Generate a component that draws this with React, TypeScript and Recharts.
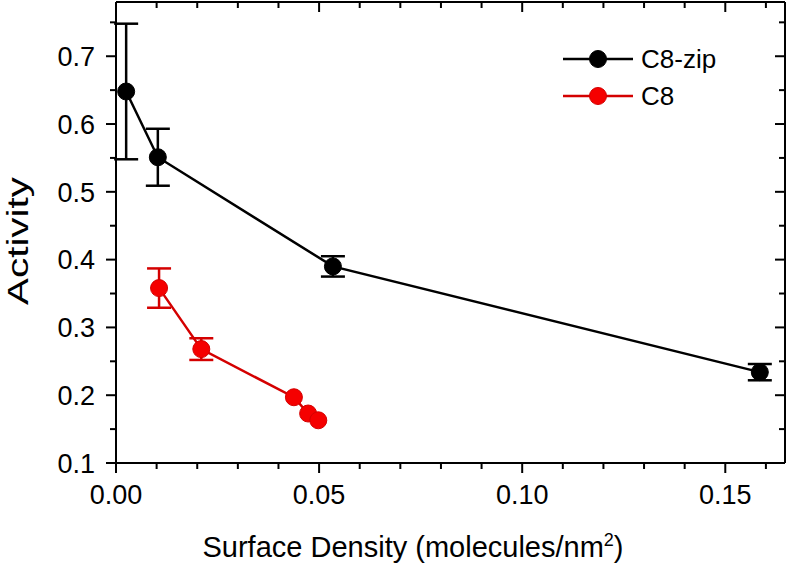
import React from "react";
import { LineChart, Line, XAxis, YAxis, ErrorBar, Legend } from "recharts";

// C8-zip series
const zipX = [0.0025, 0.0103, 0.0534, 0.1585];
const zipY = [0.648, 0.551, 0.39, 0.234];
const zipErr = [0.1, 0.042, 0.015, 0.012];

// C8 series (last three error bars are hidden by the markers)
const c8X = [0.0106, 0.021, 0.0438, 0.0473, 0.0498];
const c8Y = [0.358, 0.268, 0.197, 0.173, 0.163];
const c8Err = [0.029, 0.016, null, null, null];

const xTicks = [0, 0.01, 0.02, 0.03, 0.04, 0.05, 0.06, 0.07, 0.08, 0.09, 0.1, 0.11, 0.12, 0.13, 0.14, 0.15, 0.16];
const xMajor = [0, 0.05, 0.1, 0.15];
const yTicks = [0.1, 0.15, 0.2, 0.25, 0.3, 0.35, 0.4, 0.45, 0.5, 0.55, 0.6, 0.65, 0.7, 0.75];
const yMajor = [0.1, 0.2, 0.3, 0.4, 0.5, 0.6, 0.7];
const seriesOrder = ["C8-zip", "C8"];

const zipData = zipX.map((x, i) => ({ x, y: zipY[i], err: zipErr[i] }));
const c8Data = c8X.map((x, i) => ({ x, y: c8Y[i], err: c8Err[i] }));

const FONT = "'Liberation Sans', Arial, sans-serif";
const RED = "#f50000";
const RED_LINE = "#d40000";
const dotFill: Record<string, string> = { "C8-zip": "#000", C8: RED };

function BottomTick(props: any) {
  const { x, y, payload } = props;
  const major = xMajor.includes(payload.value);
  return (
    <g>
      <line x1={x} y1={y} x2={x} y2={y + (major ? 10 : 6)} stroke="#000" strokeWidth={2} />
      {major && (
        <text x={x} y={y + 22} dy="0.71em" textAnchor="middle" fontSize={27} fontFamily={FONT} fill="#000">
          {payload.value.toFixed(2)}
        </text>
      )}
    </g>
  );
}

function TopTick(props: any) {
  const { x, y, payload } = props;
  const major = xMajor.includes(payload.value);
  return <line x1={x} y1={y} x2={x} y2={y + (major ? 10 : 6)} stroke="#000" strokeWidth={2} />;
}

function LeftTick(props: any) {
  const { x, y, payload } = props;
  const major = yMajor.includes(payload.value);
  return (
    <g>
      <line x1={x} y1={y} x2={x - (major ? 10 : 6)} y2={y} stroke="#000" strokeWidth={2} />
      {major && (
        <text x={x - 21} y={y} dy="0.36em" textAnchor="end" fontSize={27} fontFamily={FONT} fill="#000">
          {payload.value.toFixed(1)}
        </text>
      )}
    </g>
  );
}

function RightTick(props: any) {
  const { x, y, payload } = props;
  const major = yMajor.includes(payload.value);
  return <line x1={x} y1={y} x2={x - (major ? 10 : 6)} y2={y} stroke="#000" strokeWidth={2} />;
}

function YTitle() {
  return (
    <text
      transform="translate(28,241) rotate(-90)"
      textAnchor="middle"
      fontSize={30}
      fontFamily={FONT}
      fill="#000"
      textLength={128}
      lengthAdjust="spacingAndGlyphs"
    >
      Activity
    </text>
  );
}

function XTitle() {
  return (
    <text x={413} y={557} textAnchor="middle" fontSize={29} fontFamily={FONT} fill="#000">
      Surface Density (molecules/nm
      <tspan dy={-11} fontSize={18}>2</tspan>
      <tspan dy={11}>)</tspan>
    </text>
  );
}

function LegendBox(props: any) {
  const payload = [...(props.payload || [])]
    .filter((p: any) => seriesOrder.includes(p.value))
    .sort((a: any, b: any) => seriesOrder.indexOf(a.value) - seriesOrder.indexOf(b.value));
  return (
    <svg width={220} height={80}>
      {payload.map((p: any, i: number) => {
        const cy = 24 + i * 37;
        return (
          <g key={p.value}>
            <line x1={8} y1={cy} x2={78} y2={cy} stroke={p.color} strokeWidth={2.5} />
            <circle cx={43} cy={cy} r={8.5} fill={dotFill[p.value]} stroke={p.color} strokeWidth={1} />
            <text x={86} y={cy} dy="0.36em" fontSize={26} fontFamily={FONT} fill="#000">
              {p.value}
            </text>
          </g>
        );
      })}
    </svg>
  );
}

const axisLine = { stroke: "#000", strokeWidth: 2 };

export default function App() {
  return (
    <div style={{ position: "absolute", left: 0, top: 0, background: "#fff" }}>
      <LineChart width={788} height={571} margin={{ top: 1, right: 2, bottom: 107, left: 115 }}>
        <XAxis
          xAxisId="b"
          dataKey="x"
          type="number"
          domain={[0, 0.1647]}
          allowDataOverflow
          ticks={xTicks}
          interval={0}
          height={1}
          tickSize={0}
          tickMargin={0}
          tickLine={false}
          axisLine={axisLine}
          tick={<BottomTick />}
          label={<XTitle />}
        />
        <XAxis
          xAxisId="t"
          orientation="top"
          dataKey="x"
          type="number"
          domain={[0, 0.1647]}
          allowDataOverflow
          ticks={xTicks}
          interval={0}
          height={1}
          tickSize={0}
          tickMargin={0}
          tickLine={false}
          axisLine={axisLine}
          tick={<TopTick />}
        />
        <YAxis
          yAxisId="l"
          type="number"
          domain={[0.1, 0.78]}
          allowDataOverflow
          ticks={yTicks}
          interval={0}
          width={1}
          tickSize={0}
          tickMargin={0}
          tickLine={false}
          axisLine={axisLine}
          tick={<LeftTick />}
          label={<YTitle />}
        />
        <YAxis
          yAxisId="r"
          orientation="right"
          type="number"
          domain={[0.1, 0.78]}
          allowDataOverflow
          ticks={yTicks}
          interval={0}
          width={1}
          tickSize={0}
          tickMargin={0}
          tickLine={false}
          axisLine={axisLine}
          tick={<RightTick />}
        />
        <Legend
          layout="vertical"
          align="center"
          verticalAlign="middle"
          wrapperStyle={{ position: "absolute", top: 35, left: 555, width: 220, height: 80 }}
          content={<LegendBox />}
        />
        <Line
          xAxisId="b"
          yAxisId="l"
          name="C8-zip"
          data={zipData}
          dataKey="y"
          stroke="#000"
          strokeWidth={2.5}
          dot={{ r: 8.5, fill: "#000", stroke: "#000", strokeWidth: 1 }}
          activeDot={false}
          isAnimationActive={false}
        >
          <ErrorBar dataKey="err" direction="y" width={12} stroke="#000" strokeWidth={2.5} />
        </Line>
        <Line
          xAxisId="b"
          yAxisId="l"
          name="C8"
          data={c8Data}
          dataKey="y"
          stroke={RED_LINE}
          strokeWidth={2.5}
          dot={{ r: 8.5, fill: RED, stroke: RED_LINE, strokeWidth: 1 }}
          activeDot={false}
          isAnimationActive={false}
        >
          <ErrorBar dataKey="err" direction="y" width={12} stroke={RED_LINE} strokeWidth={2.5} />
        </Line>
      </LineChart>
    </div>
  );
}
